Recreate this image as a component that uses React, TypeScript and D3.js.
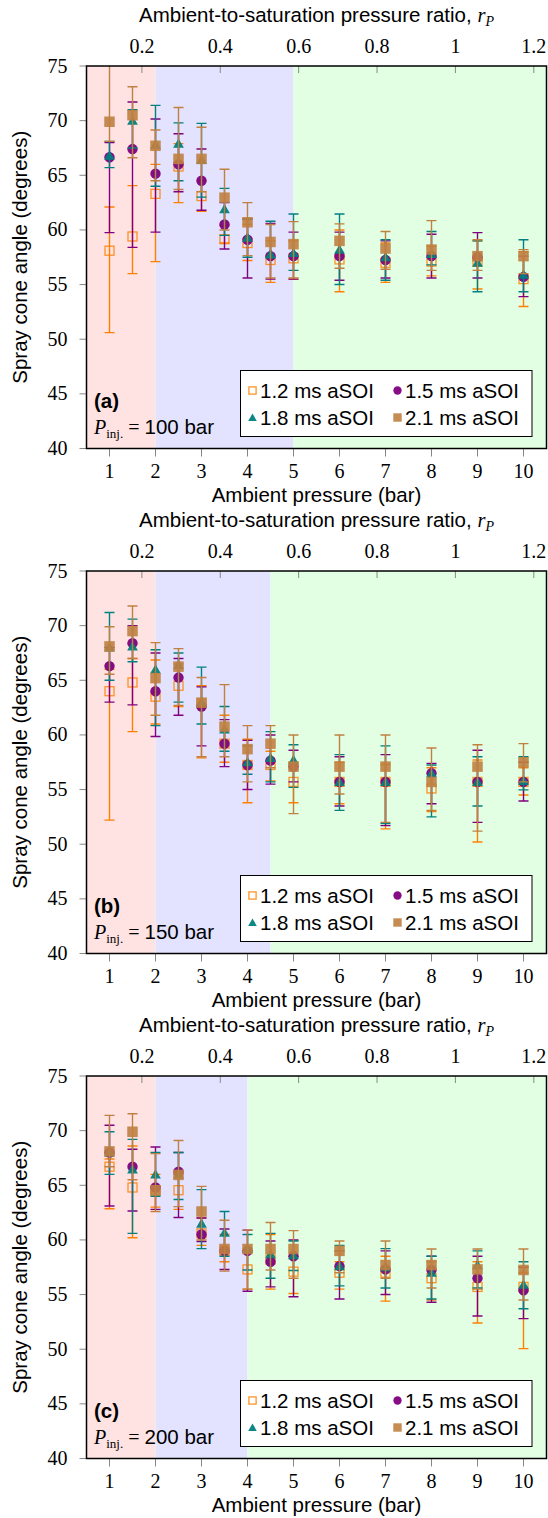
import React from "react";
import * as d3 from "d3";

// ambient pressures (bar) where the spray was measured
const pressures = [1, 1.5, 2, 2.5, 3, 3.5, 4, 4.5, 5, 6, 7, 8, 9, 10];
const seriesNames = ["1.2 ms aSOI", "1.5 ms aSOI", "1.8 ms aSOI", "2.1 ms aSOI"];
const bottomTicks = [1, 2, 3, 4, 5, 6, 7, 8, 9, 10];
const topTicks = [0.2, 0.4, 0.6, 0.8, 1, 1.2];
const yTicks = [40, 45, 50, 55, 60, 65, 70, 75];
const saturationPressure = 8.52;

// each value: [mean, lower, upper] in degrees
const a12 = [[58.1, 50.6, 62.1], [59.4, 56.0, 64.05], [63.3, 57.1, 66.0], [65.8, 62.5, 67.9], [63.1, 61.7, 64.5], [59.15, 58.8, 60.4], [58.8, 57.2, 60.5], [57.25, 55.2, 59.0], [57.4, 55.5, 59.0], [57.3, 54.35, 60.0], [57.0, 55.2, 58.8], [57.1, 55.8, 58.5], [57.1, 54.6, 59.0], [55.5, 53.0, 58.0]];
const a15 = [[66.65, 59.75, 68.0], [67.4, 58.4, 71.7], [65.15, 59.8, 70.15], [66.0, 63.5, 68.8], [64.5, 61.8, 67.4], [60.5, 58.25, 62.5], [59.1, 55.6, 61.0], [57.6, 55.5, 60.6], [57.6, 55.5, 59.8], [57.6, 55.4, 59.8], [57.25, 55.6, 59.0], [57.6, 55.6, 59.6], [57.5, 55.6, 59.75], [55.7, 53.9, 57.6]];
const a18 = [[66.8, 65.7, 68.1], [70.0, 67.5, 71.0], [67.8, 64.0, 71.4], [67.9, 64.5, 69.8], [66.4, 63.0, 69.75], [61.9, 59.5, 63.8], [59.3, 57.5, 61.0], [57.8, 57.45, 60.8], [57.9, 56.3, 61.46], [58.2, 55.0, 61.46], [57.5, 55.4, 59.1], [57.8, 56.8, 59.85], [57.0, 54.35, 59.0], [55.9, 54.35, 59.1]];
const a21 = [[69.9, 68.1, 76], [70.5, 66.6, 73.1], [67.7, 64.5, 69.15], [66.5, 63.7, 71.2], [66.5, 63.5, 69.4], [62.95, 60.0, 65.55], [60.7, 57.65, 62.5], [58.9, 55.6, 60.5], [58.7, 55.6, 60.76], [59.0, 56.5, 60.55], [58.3, 56.4, 59.85], [58.2, 56.3, 60.85], [57.6, 56.3, 59.1], [57.6, 56.0, 58.2]];

const b12 = [[64.0, 52.2, 66.0], [64.8, 60.3, 67.0], [63.5, 61.0, 66.86], [64.5, 62.6, 66.5], [62.9, 57.9, 64.5], [59.2, 57.5, 61.8], [57.25, 53.8, 59.6], [57.25, 55.8, 58.5], [55.7, 53.8, 57.5], [55.7, 53.7, 57.5], [55.7, 51.4, 57.3], [55.1, 53.0, 57.0], [55.7, 50.2, 57.7], [55.7, 54.5, 57.0]];
const b15 = [[66.3, 63.0, 68.0], [68.4, 62.75, 70.0], [64.0, 59.85, 67.5], [65.25, 61.8, 67.0], [62.6, 59.0, 64.4], [59.2, 57.1, 61.4], [57.25, 55.0, 59.5], [57.65, 55.5, 60.0], [57.1, 55.7, 58.6], [55.7, 53.5, 58.0], [55.7, 51.7, 58.2], [56.5, 53.7, 57.4], [55.7, 52.0, 58.6], [55.7, 53.96, 57.5]];
const b18 = [[68.0, 65.0, 71.2], [68.1, 66.7, 70.6], [66.0, 60.85, 67.8], [66.4, 63.0, 67.5], [63.0, 61.0, 66.2], [60.5, 58.5, 62.6], [57.5, 56.4, 59.0], [57.9, 55.7, 60.3], [57.7, 55.2, 59.1], [55.7, 53.1, 58.2], [55.7, 51.9, 59.0], [56.5, 52.5, 57.25], [55.7, 53.5, 58.0], [55.8, 54.97, 58.0]];
const b21 = [[68.1, 65.55, 69.9], [69.5, 67.0, 71.8], [65.2, 61.8, 68.45], [66.25, 62.7, 67.9], [62.95, 58.0, 65.25], [60.76, 58.0, 64.6], [58.7, 55.7, 60.85], [59.2, 57.0, 60.85], [57.1, 52.8, 60.0], [57.1, 54.6, 60.0], [57.1, 52.0, 60.0], [55.7, 53.1, 58.8], [57.1, 51.2, 59.1], [57.5, 55.7, 59.2]];

const c12 = [[66.7, 62.85, 67.4], [64.8, 60.2, 68.6], [64.5, 63.0, 66.0], [64.55, 62.8, 66.0], [60.6, 59.5, 62.0], [59.0, 58.0, 60.5], [57.3, 55.5, 59.0], [58.2, 55.5, 60.5], [57.1, 55.1, 58.5], [57.0, 55.5, 58.0], [57.0, 54.4, 58.5], [56.5, 54.5, 58.0], [55.7, 52.4, 58.0], [55.7, 50.05, 57.0]];
const c15 = [[68.0, 63.1, 70.5], [66.7, 62.65, 68.3], [64.8, 62.8, 68.5], [66.25, 62.05, 68.0], [60.5, 59.85, 62.0], [59.0, 57.3, 61.0], [59.0, 55.3, 60.9], [58.0, 55.7, 59.9], [58.5, 54.8, 60.0], [57.6, 54.6, 59.0], [57.3, 55.0, 59.0], [57.25, 54.3, 58.5], [56.5, 53.04, 58.5], [55.4, 52.8, 57.5]];
const c18 = [[68.0, 66.0, 69.9], [66.45, 60.6, 69.2], [66.0, 64.0, 68.0], [66.0, 63.7, 68.0], [61.5, 59.2, 64.6], [60.66, 58.5, 62.6], [59.2, 57.25, 60.5], [58.7, 56.5, 60.6], [58.6, 57.2, 59.9], [57.6, 55.8, 59.5], [57.5, 55.6, 59.2], [57.0, 54.6, 58.5], [57.7, 55.6, 59.0], [55.9, 53.7, 58.0]];
const c21 = [[68.1, 66.7, 71.4], [69.9, 65.5, 71.55], [64.55, 62.6, 67.9], [65.95, 63.05, 69.1], [62.6, 60.0, 64.9], [59.17, 57.15, 61.8], [59.17, 55.5, 60.9], [59.17, 57.25, 61.6], [59.17, 56.5, 60.85], [59.0, 57.0, 59.9], [57.7, 56.5, 59.9], [57.7, 55.6, 59.17], [57.3, 55.5, 59.17], [57.25, 54.5, 59.17]];

const panelLabels = ["(a)", "(b)", "(c)"];
const injectionPressures = [100, 150, 200];
// end of the blue region (bar) for each panel
const regimeEnds = [5, 4.5, 4];

const colors = ["#ff8000", "#800080", "#008080", "#bf8040"];
const sans = "'Liberation Sans', Arial, sans-serif";
const serif = "'Liberation Serif', 'Times New Roman', serif";
const sansSize = 20.5;
const serifSize = 20;

const W = 548;
const plotLeft = 86.5;
const plotRight = 546.5;
const plotH = 382.5;
const panelStep = 505;
const firstTop = 66;

const x = d3.scaleLinear().domain([0.5, 10.5]).range([plotLeft, plotRight]);

function Marker({ kind, cx, cy, scale = 1 }) {
  const c = colors[kind];
  if (kind === 0) {
    const s = 9 * scale;
    return <rect x={cx - s / 2} y={cy - s / 2} width={s} height={s} fill="none" stroke={c} strokeWidth={1.3} opacity={0.85} />;
  }
  if (kind === 1) {
    return <circle cx={cx} cy={cy} r={5.2 * scale} fill={c} opacity={0.95} />;
  }
  if (kind === 2) {
    const path = d3.symbol(d3.symbolTriangle, 50 * scale * scale)();
    return <path d={path} transform={`translate(${cx},${cy + 1})`} fill={c} opacity={0.95} />;
  }
  const s = 10.5 * scale;
  return <rect x={cx - s / 2} y={cy - s / 2} width={s} height={s} fill={c} opacity={0.9} />;
}

function Panel({ index, series }) {
  const top = firstTop + index * panelStep;
  const bottom = top + plotH;
  const y = d3.scaleLinear().domain([40, 75]).range([bottom, top]);
  const clipId = `clip-${index}`;
  const regions = [
    [0.5, 2, "#ffe3e3"],
    [2, regimeEnds[index], "#e3e3ff"],
    [regimeEnds[index], 10.5, "#e3ffe3"],
  ];
  const legendX = 240.5;
  const legendY = top + 304.5;

  return (
    <g>
      <defs>
        <clipPath id={clipId}>
          <rect x={plotLeft} y={top} width={plotRight - plotLeft} height={plotH} />
        </clipPath>
      </defs>
      {regions.map(([a, b, col], i) => (
        <rect key={i} x={x(a)} y={top} width={x(b) - x(a)} height={plotH} fill={col} />
      ))}

      {/* top axis: pressure ratio */}
      {topTicks.map((t) => {
        const px = x(t * saturationPressure);
        return (
          <g key={t}>
            <line x1={px} x2={px} y1={top} y2={top + 7} stroke="#888" strokeWidth={1} />
            <text x={px} y={top - 13} textAnchor="middle" fontFamily={serif} fontSize={serifSize}>{t}</text>
          </g>
        );
      })}
      <text x={(plotLeft + plotRight) / 2} y={top - 44} textAnchor="middle" fontFamily={sans} fontSize={sansSize}>
        Ambient-to-saturation pressure ratio,{" "}
        <tspan fontFamily={serif} fontStyle="italic">r</tspan>
        <tspan fontFamily={serif} fontStyle="italic" fontSize={14} dy={4}>P</tspan>
      </text>

      {/* bottom axis */}
      {bottomTicks.map((t) => (
        <g key={t}>
          <line x1={x(t)} x2={x(t)} y1={bottom} y2={bottom + 8} stroke="#888" strokeWidth={1} />
          <text x={x(t)} y={bottom + 29.5} textAnchor="middle" fontFamily={serif} fontSize={serifSize}>{t}</text>
        </g>
      ))}
      <text x={(plotLeft + plotRight) / 2} y={bottom + 53} textAnchor="middle" fontFamily={sans} fontSize={sansSize}>
        Ambient pressure (bar)
      </text>

      {/* left axis */}
      {yTicks.map((t) => (
        <g key={t}>
          <line x1={plotLeft - 7} x2={plotLeft} y1={y(t)} y2={y(t)} stroke="#888" strokeWidth={1} />
          <text x={plotLeft - 19} y={y(t) + 6.5} textAnchor="end" fontFamily={serif} fontSize={serifSize}>{t}</text>
        </g>
      ))}
      <text transform={`translate(27,${(top + bottom) / 2}) rotate(-90)`} textAnchor="middle" fontFamily={sans} fontSize={sansSize}>
        Spray cone angle (degrees)
      </text>

      {/* data: error bars then marks, series by series */}
      <g clipPath={`url(#${clipId})`}>
        {series.map((data, si) => (
          <g key={si}>
            {data.map(([m, lo, hi], i) => {
              const px = x(pressures[i]);
              return (
                <g key={i}>
                  <line x1={px} x2={px} y1={y(lo)} y2={y(hi)} stroke={colors[si]} strokeWidth={1.4} />
                  <line x1={px - 5} x2={px + 5} y1={y(lo)} y2={y(lo)} stroke={colors[si]} strokeWidth={1.4} />
                  <line x1={px - 5} x2={px + 5} y1={y(hi)} y2={y(hi)} stroke={colors[si]} strokeWidth={1.4} />
                  <Marker kind={si} cx={px} cy={y(m)} />
                </g>
              );
            })}
          </g>
        ))}
      </g>

      <rect x={plotLeft} y={top} width={plotRight - plotLeft} height={plotH} fill="none" stroke="#000" strokeWidth={1.5} />

      {/* legend */}
      <rect x={legendX} y={legendY} width={291.5} height={66} fill="#fff" stroke="#000" strokeWidth={1} />
      {seriesNames.map((name, i) => {
        const col = i % 2;
        const row = Math.floor(i / 2);
        const mx = legendX + 12 + col * 145;
        const my = legendY + 20 + row * 27;
        return (
          <g key={name}>
            <Marker kind={i} cx={mx} cy={my} scale={0.8} />
            <text x={mx + 7.5} y={my + 7} fontFamily={sans} fontSize={sansSize}>{name}</text>
          </g>
        );
      })}

      <text x={94} y={top + 342} fontFamily={sans} fontSize={sansSize} fontWeight="bold">{panelLabels[index]}</text>
      <text x={94} y={top + 368} fontFamily={serif} fontSize={serifSize}>
        <tspan fontStyle="italic">P</tspan>
        <tspan fontSize={13} dy={4}>inj.</tspan>
        <tspan dy={-4}> = </tspan>
        <tspan fontFamily={sans} fontSize={sansSize}>{injectionPressures[index]} bar</tspan>
      </text>
    </g>
  );
}

export default function App() {
  const panels = [
    [a12, a15, a18, a21],
    [b12, b15, b18, b21],
    [c12, c15, c18, c21],
  ];
  return (
    <svg width={W} height={1518} style={{ position: "absolute", left: 0, top: 0, background: "#fff" }}>
      <rect width={W} height={1518} fill="#fff" />
      {panels.map((series, i) => (
        <Panel key={i} index={i} series={series} />
      ))}
    </svg>
  );
}
